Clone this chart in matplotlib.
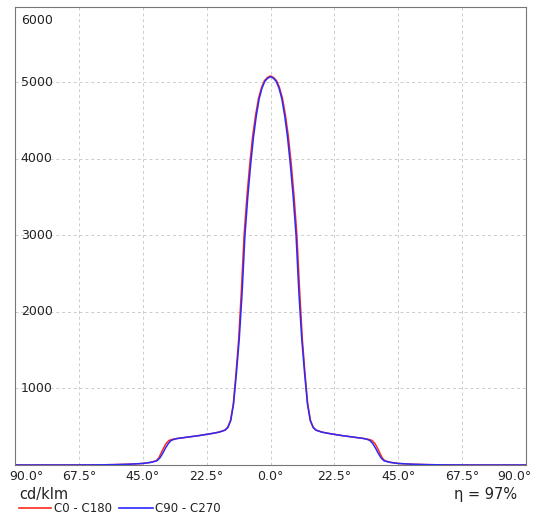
import matplotlib
matplotlib.use("Agg")
import matplotlib.pyplot as plt
import numpy as np

# half-profile (angle from nadir, deg) and intensity (cd/klm)
blue_ang = [0,1,2,3,4,5,6,7,8,9,10,11,12,13,14,15,16,18,20,22.5,25,28,31,33,34,35,36,37,38,39,40,42,45,50,55,60,70,80,90]
blue_val = [5070,5050,5010,4920,4780,4560,4280,3920,3500,3000,2250,1650,1200,800,580,490,455,430,415,400,385,370,355,345,335,320,280,220,150,90,55,35,20,10,5,2,0,0,0]
red_ang = [0,1.05,2.1,3.15,4.2,5.25,6.3,7.3,8.3,9.3,10.3,11.2,12.15,13.1,14.1,15.1,16.1,18.1,20.1,22.6,25,28,31,33,34.6,35.8,36.8,37.7,38.6,39.4,40.3,42.2,45,50,55,60,70,80,90]
red_val = [5080,5060,5020,4930,4790,4570,4290,3930,3510,3000,2250,1650,1200,800,580,490,455,430,415,400,385,370,355,345,335,320,280,220,150,90,55,35,20,10,5,2,0,0,0]

tick_pos = [-90,-67.5,-45,-22.5,0,22.5,45,67.5,90]
tick_lab = ["90.0°","67.5°","45.0°","22.5°","0.0°","22.5°","45.0°","67.5°","90.0°"]
ytick = [1000,2000,3000,4000,5000]

def mirror(a, v):
    a = np.array(a); v = np.array(v)
    return np.concatenate([-a[::-1], a[1:]]), np.concatenate([v[::-1], v[1:]])

fig = plt.figure(figsize=(5.37,5.14), dpi=100)
ax = fig.add_axes([15/537, 1-465/514, 511/537, 458/514])

rx, ry = mirror(red_ang, red_val)
bx, by = mirror(blue_ang, blue_val)
ax.plot(rx, ry, color="#ff2a1a", lw=1.1)
ax.plot(bx, by, color="#2a2aff", lw=1.1)
ax.set_xlim(-90,90); ax.set_ylim(0,5980)
ax.set_xticks(tick_pos); ax.set_xticklabels([])
ax.set_yticks(ytick); ax.set_yticklabels([])
ax.tick_params(length=0)
ax.grid(True, color="#cccccc", ls=(0,(3,3)), lw=0.7)
for s in ax.spines.values():
    s.set_color("#777777"); s.set_linewidth(0.8)
for v in ytick:
    ax.text(-88, v, str(v), fontsize=9, va="center", ha="left", color="#222222")
fig.text(21/537, 1-21/514, "6000", fontsize=9, va="center", ha="left", color="#222222")
for p, l in zip(tick_pos, tick_lab):
    xx = p
    if p == -90: xx = -86
    if p == 90: xx = 86
    ax.text(xx, -60, l, fontsize=9, ha="center", va="top", color="#222222")
fig.text(19/537, 1-494/514, "cd/klm", fontsize=10.5, va="center", color="#222222")
fig.text(517/537, 1-494/514, "η = 97%", fontsize=10.5, va="center", ha="right", color="#222222")
fig.lines.append(plt.Line2D([19/537, 51/537],[1-508/514]*2, color="#ff2a1a", lw=1.2, transform=fig.transFigure))
fig.text(54/537, 1-508/514, "C0 - C180", fontsize=8.5, va="center", color="#222222")
fig.lines.append(plt.Line2D([119/537, 153/537],[1-508/514]*2, color="#2a2aff", lw=1.2, transform=fig.transFigure))
fig.text(155/537, 1-508/514, "C90 - C270", fontsize=8.5, va="center", color="#222222")
fig.savefig("out.png", dpi=100)
